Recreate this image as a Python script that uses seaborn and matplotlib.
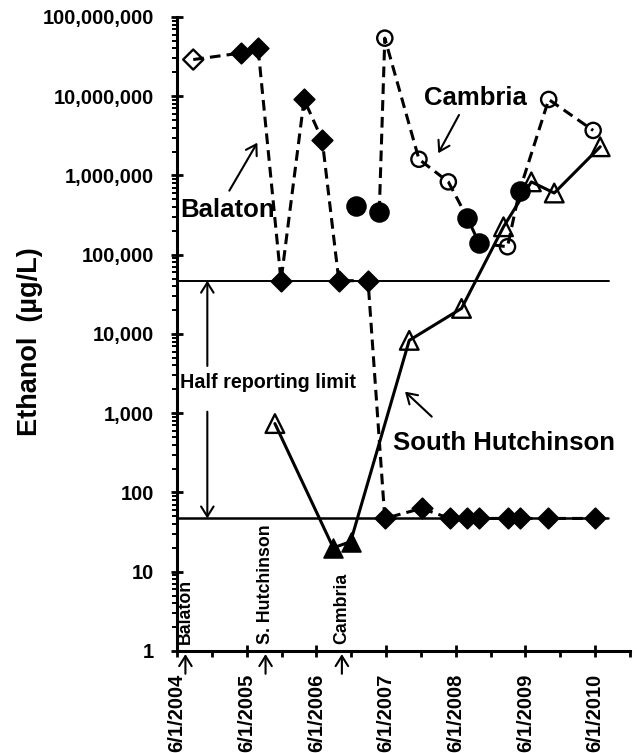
import matplotlib
matplotlib.use("Agg")
import matplotlib.pyplot as plt
import matplotlib.dates as mdates
import matplotlib.ticker as mticker
import numpy as np
import pandas as pd
import seaborn as sns

# ---------------- data ----------------
balaton_dates = ["2004-08-25", "2005-04-30", "2005-07-31", "2005-11-28", "2006-03-29",
                 "2006-07-02", "2006-09-27", "2007-02-27", "2007-05-26", "2007-12-05",
                 "2008-04-30", "2008-08-01", "2008-10-01", "2009-03-03", "2009-05-01",
                 "2009-09-27", "2010-05-30"]
balaton_vals = [2.9e7, 3.5e7, 4.0e7, 47000, 9.1e6, 2.8e6, 47000, 47000, 47, 63,
                47, 47, 47, 47, 47, 47, 47]
balaton_filled = [False] + [True] * 16

cambria_dates = ["2006-12-27", "2007-04-27", "2007-05-26", "2007-11-21", "2008-04-23",
                 "2008-08-01", "2008-10-01", "2009-02-27", "2009-05-01", "2009-10-01",
                 "2010-05-22"]
cambria_vals = [4.1e5, 3.5e5, 5.4e7, 1.6e6, 8.3e5, 2.9e5, 1.4e5, 1.26e5, 6.4e5, 9.1e6, 3.7e6]
cambria_filled = [True, True, False, False, False, True, True, False, True, False, False]
cambria_line_start = 1  # first sample not connected

sh_dates = ["2005-10-27", "2006-08-29", "2006-11-28", "2007-10-01", "2008-07-01",
            "2009-02-06", "2009-07-02", "2009-10-30", "2010-06-28"]
sh_vals = [740, 20, 24, 8300, 21000, 2.25e5, 8.3e5, 6.0e5, 2.3e6]
sh_filled = [False, True, True, False, False, False, False, False, False]

half_limits = [47000, 47]

start_names = ["Balaton", "S. Hutchinson", "Cambria"]
start_dates = ["2004-07-15", "2005-09-08", "2006-10-13"]

y_ticks = [1, 10, 100, 1000, 10000, 100000, 1000000, 10000000, 100000000]

# ---------------- style ----------------
sns.set_theme(style="ticks")
plt.rcParams["font.family"] = ["Liberation Sans", "DejaVu Sans"]
plt.rcParams["font.weight"] = "bold"

fig = plt.figure(figsize=(6.37, 7.53), dpi=100)
ax = fig.add_axes([0.2779, 0.1355, 0.7111, 0.842])

dash = (0, (3.5, 2.0))
LW = 2.2


def draw_markers(dates, vals, filled, marker, s_fill, s_open):
    d = pd.to_datetime(pd.Series(dates))
    v = pd.Series(vals)
    f = pd.Series(filled)
    sns.scatterplot(x=d[f], y=v[f], ax=ax, marker=marker, s=s_fill, color="black",
                    edgecolor="black", linewidth=1.2, zorder=5, legend=False)
    sns.scatterplot(x=d[~f], y=v[~f], ax=ax, marker=marker, s=s_open, color="black",
                    facecolors="none", edgecolor="black", linewidth=1.7, zorder=5,
                    legend=False)


# lines
sns.lineplot(x=pd.to_datetime(balaton_dates), y=balaton_vals, ax=ax, color="black",
             lw=LW, linestyle=dash, estimator=None, sort=False, zorder=3)
sns.lineplot(x=pd.to_datetime(cambria_dates[cambria_line_start:]),
             y=cambria_vals[cambria_line_start:], ax=ax, color="black",
             lw=LW, linestyle=dash, estimator=None, sort=False, zorder=3)
sns.lineplot(x=pd.to_datetime(sh_dates), y=sh_vals, ax=ax, color="black",
             lw=LW, linestyle="-", estimator=None, sort=False, zorder=3)

draw_markers(balaton_dates, balaton_vals, balaton_filled, "D", 110, 105)
draw_markers(cambria_dates, cambria_vals, cambria_filled, "o", 185, 120)
draw_markers(sh_dates, sh_vals, sh_filled, "^", 185, 180)

# half reporting limit lines
ax.axhline(half_limits[0], xmin=0, xmax=0.954, color="black", lw=1.4, zorder=2)
ax.axhline(half_limits[1], xmin=0, xmax=0.952, color="black", lw=1.8, zorder=2)

# axes
ax.set_yscale("log")
ax.set_ylim(1, 1e8)
ax.set_xlim(pd.Timestamp("2004-06-01"), pd.Timestamp("2010-12-01"))
ax.yaxis.set_major_locator(mticker.FixedLocator(y_ticks))
ax.yaxis.set_minor_locator(mticker.LogLocator(base=10, subs=np.arange(2, 10), numticks=20))
ax.yaxis.set_major_formatter(mticker.FuncFormatter(lambda v, p: f"{int(round(v)):,}"))
ax.yaxis.set_minor_formatter(mticker.NullFormatter())

ax.xaxis.set_major_locator(mdates.MonthLocator(bymonth=[6], bymonthday=1))
ax.xaxis.set_minor_locator(mdates.MonthLocator(bymonth=[12], bymonthday=1))


def fmt_date(v, p):
    d = mdates.num2date(v)
    return f"{d.month}/{d.day}/{d.year}"


ax.xaxis.set_major_formatter(mticker.FuncFormatter(fmt_date))

for sp in ["top", "right"]:
    ax.spines[sp].set_visible(False)
for sp in ["left", "bottom"]:
    ax.spines[sp].set_linewidth(2.2)
    ax.spines[sp].set_color("black")

ax.tick_params(axis="both", which="major", direction="inout", length=9, width=2,
               color="black", labelcolor="black")
ax.tick_params(axis="y", which="major", pad=12, labelsize=14.5)
ax.tick_params(axis="x", which="major", pad=12, labelsize=14.5, labelrotation=90)
ax.tick_params(axis="y", which="minor", direction="out", length=3.6, width=1.4, color="black")
ax.tick_params(axis="x", which="minor", direction="out", length=4.5, width=2, color="black")
for lab in ax.get_xticklabels() + ax.get_yticklabels():
    lab.set_fontweight("bold")

ax.set_xlabel("")
ax.set_ylabel("Ethanol  (µg/L)", fontsize=19.5, fontweight="bold", color="black")
ax.yaxis.set_label_coords(-0.296, 0.488)
ax.grid(False)

# annotations
arrow = dict(arrowstyle="->,head_length=0.4,head_width=0.25", lw=1.5, color="black",
             shrinkA=0, shrinkB=0, mutation_scale=18)
tkw = dict(transform=ax.transAxes, ha="center", va="center", fontsize=18.5,
           fontweight="bold", color="black")

ax.text(0.1126, 0.6956, "Balaton", **tkw)
ax.annotate("", xy=(0.1773, 0.8017), xytext=(0.1155, 0.7260),
            xycoords="axes fraction", arrowprops=arrow)
ax.text(0.6578, 0.8722, "Cambria", **tkw)
ax.annotate("", xy=(0.5768, 0.7850), xytext=(0.6225, 0.8454),
            xycoords="axes fraction", arrowprops=arrow)
ax.text(0.7225, 0.3281, "South Hutchinson", **tkw)
ax.annotate("", xy=(0.5033, 0.4090), xytext=(0.5623, 0.3696),
            xycoords="axes fraction", arrowprops=arrow)

ax.text(0.006, 0.4227, "Half reporting limit", transform=ax.transAxes, ha="left",
        va="center", fontsize=14.2, fontweight="bold", color="black")
ytr = ax.get_yaxis_transform()
ax.annotate("", xy=(0.0669, half_limits[0]), xytext=(0.0669, 0.4495),
            xycoords=ytr, textcoords="axes fraction", arrowprops=arrow)
ax.annotate("", xy=(0.0669, half_limits[1]), xytext=(0.0669, 0.3774),
            xycoords=ytr, textcoords="axes fraction", arrowprops=arrow)

xtr = ax.get_xaxis_transform()
for name, d in zip(start_names, start_dates):
    t = mdates.date2num(pd.Timestamp(d))
    ax.text(t, 0.011, name, transform=xtr, rotation=90, ha="center", va="bottom",
            fontsize=12.8, fontweight="bold", color="black")
    ax.annotate("", xy=(t, -0.005), xytext=(t, -0.036), xycoords=xtr,
                arrowprops=arrow, annotation_clip=False)

fig.savefig("out.png", dpi=100)
